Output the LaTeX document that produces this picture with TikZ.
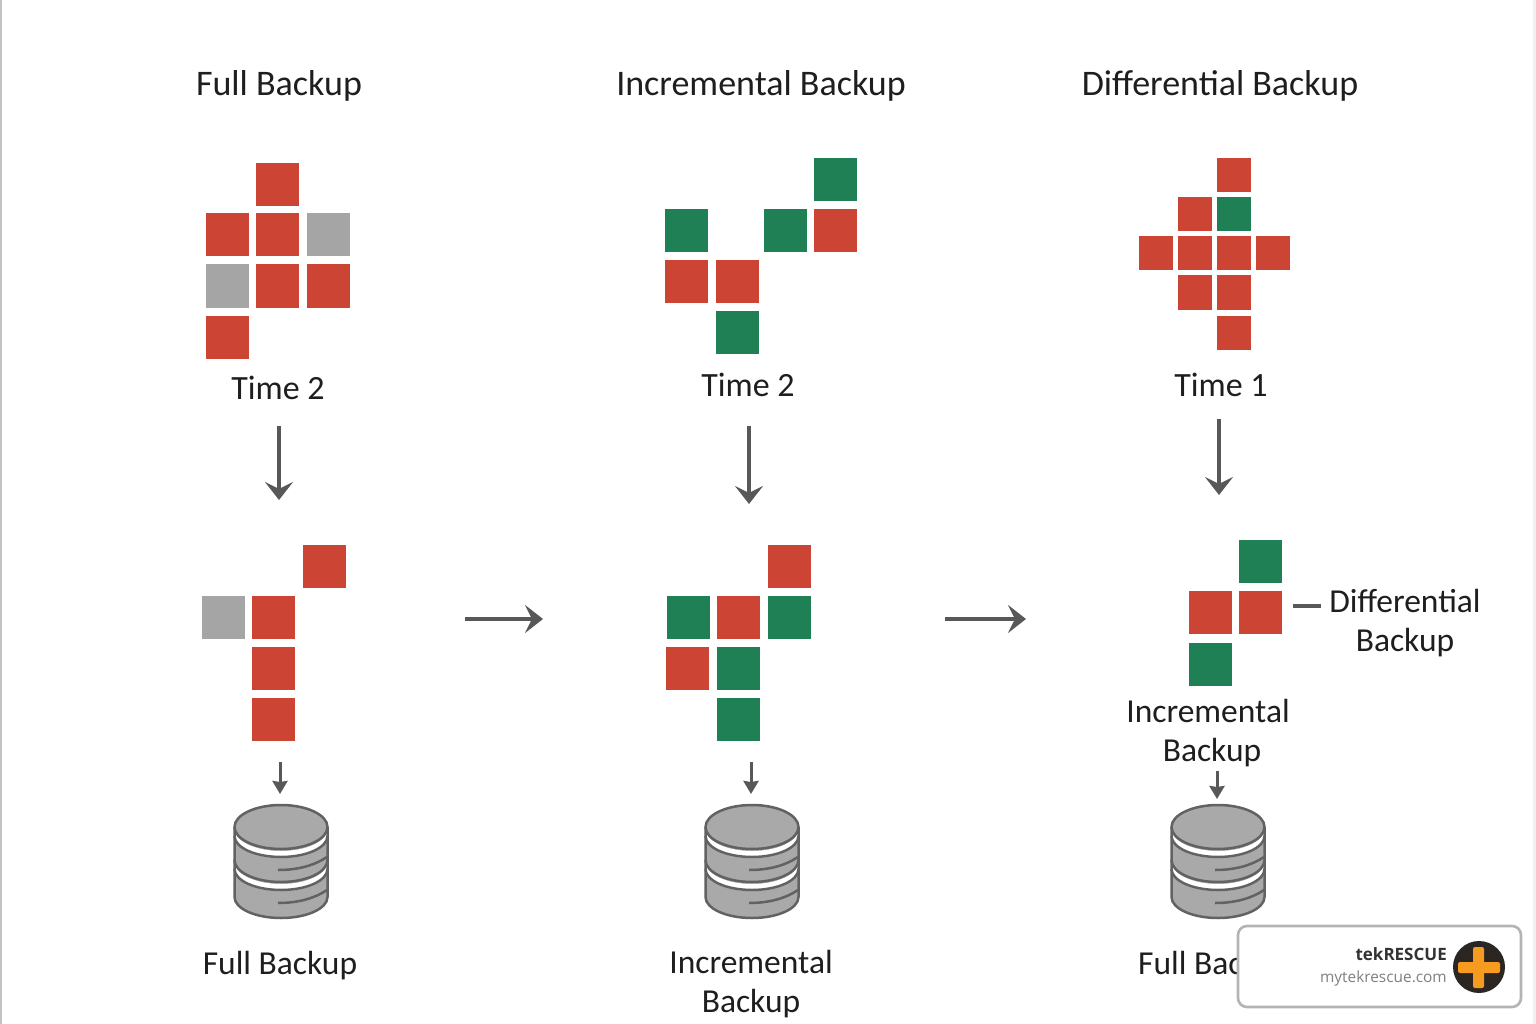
\documentclass[tikz,border=0pt]{standalone}
\usepackage{fontspec}
\setmainfont{Carlito}
\newfontfamily\badgefont{Open Sans}
\usetikzlibrary{arrows.meta}
\definecolor{blockred}{HTML}{CC4434}
\definecolor{blockgreen}{HTML}{208055}
\definecolor{blockgray}{HTML}{A5A5A5}
\definecolor{ink}{HTML}{585858}
\definecolor{dbfill}{HTML}{A9A9A9}
\definecolor{dbline}{HTML}{626262}
\definecolor{labelink}{HTML}{1E1E1E}
\definecolor{framegray}{HTML}{B4B4B4}
\definecolor{plusorange}{HTML}{F79A20}
\definecolor{plusdark}{HTML}{2B2622}
\tikzset{
 sqb/.style={minimum size=43pt,inner sep=0pt,outer sep=0pt},
 sqs/.style={minimum size=34pt,inner sep=0pt,outer sep=0pt},
 lab/.style={font=\fontsize{33.5}{39}\selectfont,text=labelink,inner sep=0pt,align=center},
 headlab/.style={lab,font=\fontsize{36}{39}\selectfont},
 timelab/.style={lab,font=\fontsize{34}{39}\selectfont},
 bigarrow/.style={draw=ink,line width=4pt,-{Stealth[length=18pt,width=28pt,inset=7pt]}},
 smallarrow/.style={draw=ink,line width=3pt,-{Stealth[length=13pt,width=15pt,inset=1pt]}},
 dbbody/.style={line width=2.4pt,fill=dbfill},
 dbedge/.style={draw=dbline,line width=2.5pt},
}
% #1 x, #2 name
\newcommand{\dbcyl}[2]{%
 \begin{scope}[shift={(#1,0)}]
  \path[dbbody] (-46.5,827) -- (-46.5,897) arc[start angle=180,end angle=0,x radius=46.5,y radius=21] -- (46.5,827) arc[start angle=0,end angle=-180,x radius=46.5,y radius=22] -- cycle;
  \fill[white] (-46.5,829) arc[start angle=180,end angle=0,x radius=46.5,y radius=22] -- (46.5,837) arc[start angle=0,end angle=180,x radius=46.5,y radius=21] -- cycle;
  \fill[white] (-46.5,862) arc[start angle=180,end angle=0,x radius=46.5,y radius=22] -- (46.5,870) arc[start angle=0,end angle=180,x radius=46.5,y radius=21] -- cycle;
  \path[dbedge] (-46.5,827) arc[start angle=180,end angle=-180,x radius=46.5,y radius=22];
  \path[dbedge] (-46.5,836) arc[start angle=180,end angle=0,x radius=46.5,y radius=21];
  \path[dbedge] (-46.5,860) arc[start angle=180,end angle=0,x radius=46.5,y radius=22];
  \path[dbedge] (-46.5,869) arc[start angle=180,end angle=0,x radius=46.5,y radius=21];
  \path[dbedge] (-46.5,827) -- (-46.5,897) arc[start angle=180,end angle=0,x radius=46.5,y radius=21] -- (46.5,827);
  \path[dbedge] (-3,870) .. controls (18,870) and (34,865) .. (46,857);
  \path[dbedge] (-3,903) .. controls (18,903) and (34,898) .. (46,890);
 \end{scope}
 \coordinate (#2) at (#1,805);
}
\begin{document}
\begin{tikzpicture}[x=1pt,y=-1pt]
\useasboundingbox (0,0) rectangle (1536,1024);
\fill[white] (0,0) rectangle (1536,1024);
\fill[framegray!80] (0,0) rectangle (2,1024);
\fill[black!6] (1533,0) rectangle (1536,1024);

% headings
\node[headlab] (h1) at (279,85.5) {Full Backup};
\node[headlab] (h2) at (761,85.5) {Incremental Backup};
\node[headlab] (h3) at (1220,85.5) {Differential Backup};

% column 1 top
\foreach \n/\x/\y/\c in {a1/277.5/184.5/blockred,a2/227.5/235/blockred,a3/277.5/235/blockred,a4/328.5/235/blockgray,a5/227.5/286/blockgray,a6/277.5/286/blockred,a7/328.5/286/blockred,a8/227.5/337/blockred}
 \node[sqb,fill=\c] (\n) at (\x,\y) {};
% column 2 top
\foreach \n/\x/\y/\c in {b1/835.5/179.5/blockgreen,b2/686.5/230.5/blockgreen,b3/785/230.5/blockgreen,b4/835.5/230.5/blockred,b5/686.5/281.5/blockred,b6/737.5/281.5/blockred,b7/737.5/332.5/blockgreen}
 \node[sqb,fill=\c] (\n) at (\x,\y) {};
% column 3 top
\foreach \n/\x/\y/\c in {c1/1233.5/175.5/blockred,c2/1194.5/214.5/blockred,c3/1233.5/214.5/blockgreen,c4/1155.5/253.5/blockred,c5/1194.5/253.5/blockred,c6/1233.5/253.5/blockred,c7/1272.5/253.5/blockred,c8/1194.5/292.5/blockred,c9/1233.5/292.5/blockred,c10/1233.5/332.5/blockred}
 \node[sqs,fill=\c] (\n) at (\x,\y) {};
% column 1 lower
\foreach \n/\x/\y/\c in {d1/324.5/566/blockred,d2/223/617/blockgray,d3/273.5/617/blockred,d4/273.5/668/blockred,d5/273.5/719/blockred}
 \node[sqb,fill=\c] (\n) at (\x,\y) {};
% column 2 lower
\foreach \n/\x/\y/\c in {e1/789.5/566/blockred,e2/688/617/blockgreen,e3/738.5/617/blockred,e4/789.5/617/blockgreen,e5/687.5/668/blockred,e6/738.5/668/blockgreen,e7/738.5/719/blockgreen}
 \node[sqb,fill=\c] (\n) at (\x,\y) {};
% column 3 lower
\foreach \n/\x/\y/\c in {f1/1260.5/561.5/blockgreen,f2/1210/612.5/blockred,f3/1260.5/612.5/blockred,f4/1210/664/blockgreen}
 \node[sqb,fill=\c] (\n) at (\x,\y) {};

% time labels
\node[timelab] (t1) at (278,388) {Time 2};
\node[timelab] (t2) at (748,385) {Time 2};
\node[timelab] (t3) at (1221,385) {Time 1};

% big down arrows
\coordinate (t1s) at (279,426); \coordinate (t1e) at (279,500);
\coordinate (t2s) at (749,426); \coordinate (t2e) at (749,504);
\coordinate (t3s) at (1219,419); \coordinate (t3e) at (1219,495);
\draw[bigarrow] (t1s) -- (t1e);
\draw[bigarrow] (t2s) -- (t2e);
\draw[bigarrow] (t3s) -- (t3e);

% horizontal arrows
\coordinate (m1s) at (465,619); \coordinate (m1e) at (543,619);
\coordinate (m2s) at (945,619); \coordinate (m2e) at (1026,619);
\draw[bigarrow] (m1s) -- (m1e);
\draw[bigarrow] (m2s) -- (m2e);

% databases
\dbcyl{281}{db1}
\dbcyl{752}{db2}
\dbcyl{1218}{db3}

% small arrows
\coordinate (s1) at (280,762); \coordinate (s1e) at (280,794);
\coordinate (s2) at (751,762); \coordinate (s2e) at (751,794);
\coordinate (s3) at (1217,771); \coordinate (s3e) at (1217,799);
\draw[smallarrow] (s1) -- (s1e);
\draw[smallarrow] (s2) -- (s2e);
\draw[smallarrow] (s3) -- (s3e);

% side labels
\node[lab] (dl) at (1405,623) {Differential\\Backup};
\coordinate (dls) at (1293,606); \coordinate (dle) at (1321,606);
\draw[draw=ink,line width=3.2pt] (dls) -- (dle);
\node[lab] (il) at (1208,733.5) {Incremental\\\hspace*{8pt}Backup};

% bottom labels
\node[lab] (b1l) at (280,966) {Full Backup};
\node[lab] (b2l) at (751,984.5) {Incremental\\Backup};
\node[lab,anchor=west] (b3l) at (1138,966) {Full Backup};

% badge
\node[draw=framegray,line width=2.6pt,fill=white,rounded corners=9pt,minimum width=283pt,minimum height=81pt,inner sep=0pt] (badge) at (1379.5,966.5) {};
\node[anchor=east,inner sep=0pt,text=black!80,font=\badgefont\bfseries\fontsize{17}{20}\selectfont] (brand) at (1447,954) {tekRESCUE};
\node[anchor=east,inner sep=0pt,text=black!50,font=\badgefont\fontsize{15.4}{19}\selectfont] (site) at (1447,978.5) {mytekrescue.com};
\node[circle,fill=plusdark,minimum size=52pt,inner sep=0pt] (logo) at (1479,967) {};
\fill[plusorange,rounded corners=2pt] (1473,947) rectangle (1484,988);
\fill[plusorange,rounded corners=2pt] (1458,962) rectangle (1500,973);
\end{tikzpicture}
\end{document}
